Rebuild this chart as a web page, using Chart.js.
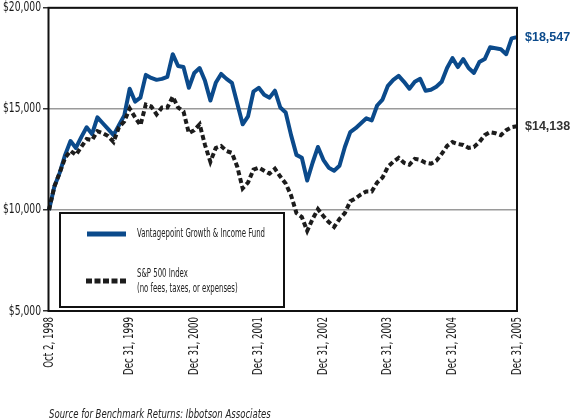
<!DOCTYPE html>
<html>
<head>
<meta charset="utf-8">
<script src="https://cdn.jsdelivr.net/npm/chart.js@4.4.0/dist/chart.umd.min.js"></script>
<style>
  html, body { margin: 0; padding: 0; background: #fff; }
  #wrap { position: relative; width: 570px; height: 419px; }
  #source {
    position: absolute; left: 49px; top: 407px;
    font: italic 12px 'DejaVu Sans Condensed', 'Liberation Sans Narrow', sans-serif;
    color: #222; white-space: nowrap;
    transform: scaleX(0.79); transform-origin: left center;
  }
</style>
</head>
<body>
<div id="wrap">
  <canvas id="chart" width="570" height="419"></canvas>
  <div id="source">Source for Benchmark Returns: Ibbotson Associates</div>
</div>
<script>
// month-end values, Oct 2 1998 start through Dec 31 2005
const fundValues = [
  10000, 11160, 11845, 12724, 13408, 13066, 13603, 14092, 13750, 14580,
  14287, 13994, 13700, 14189, 14677, 15996, 15361, 15556, 16680, 16533,
  16435, 16484, 16582, 17705, 17119, 17070, 16045, 16777, 17021, 16386,
  15410, 16289, 16728, 16484, 16289, 15263, 14238, 14629, 15849, 16045,
  15703, 15556, 15898, 15068, 14824, 13701, 12724, 12578, 11455, 12334,
  13115, 12480, 12089, 11943, 12187, 13115, 13847, 14043, 14287, 14531,
  14433, 15166, 15459, 16142, 16435, 16631, 16338, 15996, 16338, 16484,
  15898, 15947, 16094, 16338, 17021, 17510, 17070, 17461, 17021, 16777,
  17314, 17461, 18047, 17998, 17949, 17705, 18486, 18547
];
const spValues = [
  10000, 11162, 11845, 12578, 12920, 12724, 13115, 13506, 13457, 13896,
  13798, 13652, 13359, 14092, 14385, 15019, 14580, 14189, 15215, 15117,
  14726, 15068, 15068, 15605, 15068, 14873, 13799, 13945, 14238, 13213,
  12383, 13066, 13164, 12920, 12822, 12138, 11064, 11357, 11992, 12089,
  11943, 11797, 12041, 11650, 11308, 10722, 9843, 9648, 8964, 9550,
  10039, 9697, 9404, 9160, 9550, 9843, 10430, 10576, 10771, 10918,
  10918, 11357, 11601, 12138, 12383, 12578, 12334, 12236, 12529, 12480,
  12334, 12285, 12431, 12773, 13164, 13359, 13262, 13213, 13066, 13115,
  13359, 13701, 13847, 13798, 13701, 13945, 14092, 14138
];
const tickDates = ['Oct 2, 1998', 'Dec 31, 1999', 'Dec 31, 2000', 'Dec 31, 2001',
  'Dec 31, 2002', 'Dec 31, 2003', 'Dec 31, 2004', 'Dec 31, 2005'];
const seriesNames = ['Vantagepoint Growth & Income Fund', 'S&P 500 Index', '(no fees, taxes, or expenses)'];

const MON = ['Jan','Feb','Mar','Apr','May','Jun','Jul','Aug','Sep','Oct','Nov','Dec'];
const months = ['Oct 2, 1998'];
for (let k = 0; months.length < fundValues.length; k++) {
  const y = 1998 + Math.floor((9 + k) / 12), m = (9 + k) % 12;
  months.push(MON[m] + ' ' + new Date(y, m + 1, 0).getDate() + ', ' + y);
}

const BLUE = '#0b4a8b';
const DARK = '#1c1c1c';
const NARROW = "'DejaVu Sans Condensed', 'Liberation Sans Narrow', sans-serif";
const money = (v) => '$' + v.toLocaleString('en-US');

// the artwork uses a very condensed face, so squeeze text horizontally
function squeezeText(ctx, text, x, y, sx, rot) {
  ctx.save();
  ctx.translate(x, y);
  if (rot) ctx.rotate(rot);
  ctx.scale(sx, 1);
  ctx.fillText(text, 0, 0);
  ctx.restore();
}

const extras = {
  id: 'extras',
  afterDatasetsDraw(chart) {
    const { ctx, chartArea: a, scales } = chart;
    ctx.save();
    // frame
    ctx.strokeStyle = '#111';
    ctx.lineWidth = 2;
    ctx.strokeRect(a.left - 0.5, a.top, a.right - a.left + 0.5, a.bottom - a.top);

    // legend box
    ctx.fillStyle = '#fff';
    ctx.fillRect(60, 213, 224, 94);
    ctx.strokeRect(60, 213, 224, 94);
    ctx.lineWidth = 5;
    ctx.strokeStyle = BLUE;
    ctx.beginPath(); ctx.moveTo(87, 234); ctx.lineTo(126, 234); ctx.stroke();
    ctx.strokeStyle = DARK;
    ctx.setLineDash([6, 2.5]);
    ctx.beginPath(); ctx.moveTo(86, 281); ctx.lineTo(126, 281); ctx.stroke();
    ctx.setLineDash([]);
    ctx.fillStyle = '#222';
    ctx.font = '13px ' + NARROW;
    ctx.textBaseline = 'middle';
    const sx = Math.min(1, 128 / ctx.measureText(seriesNames[0]).width);
    squeezeText(ctx, seriesNames[0], 137, 234, sx);
    squeezeText(ctx, seriesNames[1], 137, 274, sx);
    squeezeText(ctx, seriesNames[2], 137, 289, sx);

    // y tick labels
    ctx.fillStyle = '#1a1a1a';
    ctx.font = '13.5px ' + NARROW;
    ctx.textAlign = 'right';
    const ysx = 38 / ctx.measureText(money(20000)).width;
    scales.y.ticks.forEach((t) => {
      squeezeText(ctx, money(t.value), a.left - 8, scales.y.getPixelForValue(t.value), ysx);
    });

    // x tick labels, rotated
    ctx.font = '13.5px ' + NARROW;
    const xsx = 58 / ctx.measureText('Dec 31, 1999').width;
    tickDates.forEach((d) => {
      const px = scales.x.getPixelForValue(months.indexOf(d));
      squeezeText(ctx, d, px, a.bottom + 6, xsx, -Math.PI / 2);
    });

    // end values
    ctx.font = "bold 12.5px 'Liberation Sans', Arial, sans-serif";
    ctx.textAlign = 'left';
    ctx.fillStyle = BLUE;
    const lastF = fundValues[fundValues.length - 1];
    ctx.fillText(money(lastF), a.right + 8, scales.y.getPixelForValue(lastF));
    ctx.fillStyle = '#333';
    const lastS = spValues[spValues.length - 1];
    ctx.fillText(money(lastS), a.right + 8, scales.y.getPixelForValue(lastS));
    ctx.restore();
  }
};

new Chart(document.getElementById('chart'), {
  type: 'line',
  data: {
    labels: months,
    datasets: [
      {
        label: seriesNames[0], data: fundValues, order: 1,
        borderColor: BLUE, borderWidth: 4, pointRadius: 0, tension: 0,
        borderJoinStyle: 'round'
      },
      {
        label: seriesNames[1], data: spValues, order: 0,
        borderColor: DARK, borderWidth: 4, borderDash: [5, 3], pointRadius: 0, tension: 0
      }
    ]
  },
  options: {
    responsive: false,
    animation: false,
    layout: { padding: { top: 6, right: 53, left: 0, bottom: 0 } },
    plugins: { legend: { display: false }, tooltip: { enabled: false } },
    scales: {
      x: {
        grid: { display: false },
        border: { display: false },
        afterFit: (s) => { s.height = 108; },
        ticks: {
          autoSkip: false, minRotation: 90, maxRotation: 90,
          color: 'rgba(0,0,0,0)', font: { size: 8 },
          callback: (v, i) => tickDates.includes(months[i]) ? months[i] : null
        }
      },
      y: {
        min: 5000, max: 20000,
        afterFit: (s) => { s.width = 49; },
        border: { display: false },
        grid: { color: '#9a9a9a', lineWidth: 1.5, tickColor: '#333', tickLength: 6 },
        ticks: {
          stepSize: 5000, color: 'rgba(0,0,0,0)', font: { size: 8 },
          callback: (v) => money(v)
        }
      }
    }
  },
  plugins: [extras]
});
</script>
</body>
</html>
